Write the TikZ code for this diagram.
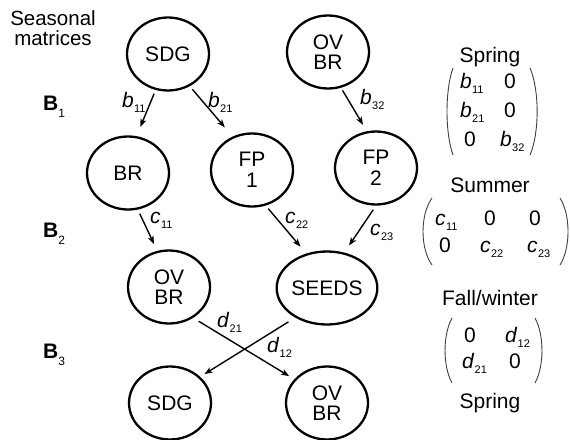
\documentclass[tikz,border=0pt]{standalone}
\usepackage{fontspec}
\setmainfont{Liberation Sans}
\usetikzlibrary{shapes.geometric,arrows.meta}
\newcommand\subx[1]{\raisebox{-5pt}{\fontsize{11}{11}\selectfont #1}}
\newcommand\ent[2]{\textit{#1}\kern0.3pt\subx{#2}}
\newcommand\bsub[1]{\raisebox{-7pt}{\fontsize{12}{12}\selectfont #1}}
\begin{document}
\begin{tikzpicture}[x=1pt,y=-1pt,
  font=\fontsize{21}{20.5}\selectfont,
  state/.style={ellipse, draw, line width=2.3pt, minimum width=82pt, minimum height=73pt, inner sep=0pt, align=center},
  arr/.style={line width=1.4pt, -{Stealth[length=8pt,width=6pt,inset=2pt]}},
  lbl/.style={anchor=base west, inner sep=0pt},
  txt/.style={anchor=base, inner sep=0pt},
  paren/.style={line width=0.9pt, draw=black!75}]
\useasboundingbox (0,0) rectangle (570,439);

% title
\node[align=center, inner sep=0pt, font=\fontsize{20.5}{20}\selectfont] (title) at (53,28) {Seasonal\\matrices};

% B labels
\node[lbl] (B1) at (43,110) {\textbf{B}\bsub{1}};
\node[lbl] (B2) at (43,237) {\textbf{B}\bsub{2}};
\node[lbl] (B3) at (43,358) {\textbf{B}\bsub{3}};

% states
\node[state] (sdgT) at (168,54) {SDG};
\node[state] (ovbrT) at (328,52) {OV\\BR};
\node[state] (br) at (128,173) {BR};
\node[state] (fp1) at (252,170) {FP\\1};
\node[state] (fp2) at (376,168) {FP\\2};
\node[state] (ovbrM) at (169,287) {OV\\BR};
\node[state] (seeds) at (327,288) {SEEDS};
\node[state] (sdgB) at (170,403) {SDG};
\node[state] (ovbrB) at (327,403) {OV\\BR};

% connectors
\draw[arr, shorten <=4pt, shorten >=10pt] (sdgT.251.6) -- (br.77.7);
\draw[arr, shorten <=4pt, shorten >=12pt] (sdgT.304.4) -- (fp1.120.2);
\draw[arr, shorten <=3pt, shorten >=7.5pt] (ovbrT.290.2) -- (fp2.104.3);
\draw[arr, shorten <=4.5pt, shorten >=7.5pt] (br.285.4) -- (ovbrM.108.4);
\draw[arr, shorten <=4pt, shorten >=9pt] (fp1.291.5) -- (seeds.121);
\draw[arr, shorten <=5pt, shorten >=8.5pt] (fp2.270) -- (seeds.64);
\draw[arr, shorten <=6.5pt, shorten >=6pt] (ovbrM.308.7) -- (ovbrB.144.9);
\draw[arr, shorten <=8pt, shorten >=5pt] (seeds.223.3) -- (sdgB.41.3);

% connector labels
\node[lbl] (lb11) at (122,107) {\ent{b}{11}};
\node[lbl] (lb21) at (208,107) {\ent{b}{21}};
\node[lbl] (lb32) at (360,104) {\ent{b}{32}};
\node[lbl] (lc11) at (150,223) {\ent{c}{11}};
\node[lbl] (lc22) at (285,223) {\ent{c}{22}};
\node[lbl] (lc23) at (370,235) {\ent{c}{23}};
\node[lbl] (ld21) at (217,327) {\ent{d}{21}};
\node[lbl] (ld12) at (267,352) {\ent{d}{12}};

% matrix 1: Spring
\node[txt] (spring1) at (490,62) {Spring};
\node[lbl] (m1a) at (460,88) {\ent{b}{11}};
\node[txt] (m1b) at (510,88) {0};
\node[lbl] (m1c) at (460,117) {\ent{b}{21}};
\node[txt] (m1d) at (510,117) {0};
\node[txt] (m1e) at (470,146) {0};
\node[lbl] (m1f) at (500,146) {\ent{b}{32}};
\draw[paren] (453,68) .. controls (445,90) and (445,133) .. (453,155);
\draw[paren] (530,68) .. controls (539.5,90) and (539.5,133) .. (530,155);

% matrix 2: Summer
\node[txt] (summer) at (490,192) {Summer};
\node[lbl] (m2a) at (435,225) {\ent{c}{11}};
\node[txt] (m2b) at (490,225) {0};
\node[txt] (m2c) at (535,225) {0};
\node[txt] (m2d) at (445,252) {0};
\node[lbl] (m2e) at (480,252) {\ent{c}{22}};
\node[lbl] (m2f) at (527,252) {\ent{c}{23}};
\draw[paren] (432,198) .. controls (420,215) and (420,248) .. (432,265);
\draw[paren] (560,198) .. controls (570.7,215) and (570.7,248) .. (560,265);

% matrix 3: Fall/winter
\node[txt] (fall) at (490,305) {Fall/winter};
\node[txt] (m3a) at (470,342) {0};
\node[lbl] (m3b) at (505,342) {\ent{d}{12}};
\node[lbl] (m3c) at (462,368) {\ent{d}{21}};
\node[txt] (m3d) at (515,368) {0};
\draw[paren] (452,318) .. controls (442.7,335) and (442.7,366) .. (452,383);
\draw[paren] (535,318) .. controls (544.3,335) and (544.3,366) .. (535,383);
\node[txt] (spring2) at (490,408) {Spring};
\end{tikzpicture}
\end{document}
